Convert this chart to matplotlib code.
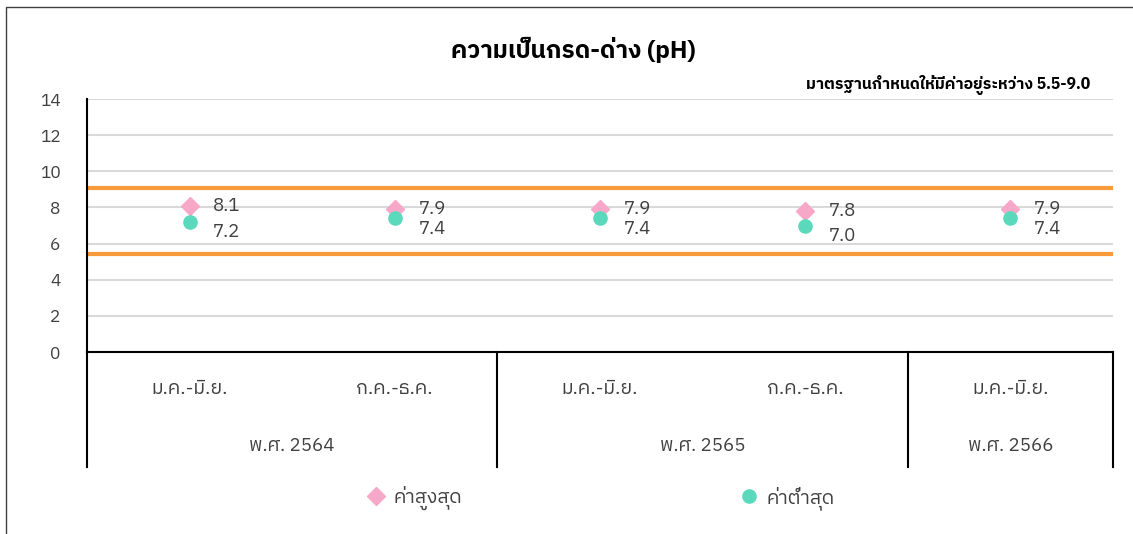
import matplotlib
matplotlib.use("Agg")
import matplotlib.pyplot as plt
import matplotlib.transforms as mtransforms
from matplotlib.patches import Rectangle
from matplotlib.lines import Line2D

# ข้อมูล
periods = ["ม.ค.-มิ.ย.", "ก.ค.-ธ.ค.", "ม.ค.-มิ.ย.", "ก.ค.-ธ.ค.", "ม.ค.-มิ.ย."]
years = ["พ.ศ. 2564", "พ.ศ. 2565", "พ.ศ. 2566"]
year_spans = [(0, 1), (2, 3), (4, 4)]
ph_max = [8.1, 7.9, 7.9, 7.8, 7.9]
ph_min = [7.2, 7.4, 7.4, 7.0, 7.4]
std_upper = 9.05
std_lower = 5.4
yticks = [0, 2, 4, 6, 8, 10, 12, 14]

plt.rcParams['font.family'] = ['IBM Plex Sans Thai', 'Noto Sans', 'DejaVu Sans']
text_color = '#404040'
pink = '#F7A8C9'
teal = '#5AD9BD'
orange = '#F79A3A'

fig = plt.figure(figsize=(11.33, 5.34), dpi=100)
ax = fig.add_axes([0.0768, 0.3408, 0.9055, 0.4738])

x = list(range(len(periods)))

# เส้นมาตรฐาน
ax.axhline(std_upper, color=orange, lw=3, zorder=2)
ax.axhline(std_lower, color=orange, lw=3, zorder=2)

# เส้น high-low
ax.vlines(x, ph_min, ph_max, color='black', lw=1, zorder=3)
ax.plot(x, ph_max, linestyle='none', marker='D', markersize=9, color=pink,
        label='ค่าสูงสุด', zorder=4)
ax.plot(x, ph_min, linestyle='none', marker='o', markersize=9.5, color=teal,
        label='ค่าต่ำสุด', zorder=4)

for xi, hi, lo in zip(x, ph_max, ph_min):
    ax.annotate(f"{hi:.1f}", (xi, hi), xytext=(17, 0), textcoords='offset points',
                ha='left', va='center', fontsize=13.5, color=text_color)
    ax.annotate(f"{lo:.1f}", (xi, lo), xytext=(17, -7.5), textcoords='offset points',
                ha='left', va='center', fontsize=13.5, color=text_color)

ax.set_xlim(-0.5, len(periods) - 0.5)
ax.set_ylim(0, 14)
ax.set_yticks(yticks)
ax.set_yticklabels([str(v) for v in yticks], fontsize=12.5, color=text_color)
ax.tick_params(axis='y', length=0, pad=19)
ax.set_xticks([])
ax.grid(axis='y', color='#D9D9D9', lw=1.5)
ax.set_axisbelow(True)
for side in ['top', 'right']:
    ax.spines[side].set_visible(False)
ax.spines['left'].set_color('black')
ax.spines['bottom'].set_color('black')
ax.spines['bottom'].set_linewidth(1.5)
ax.spines['left'].set_linewidth(1.5)

# ตารางแกน x แบบหลายระดับ
trans = mtransforms.blended_transform_factory(ax.transData, ax.transAxes)
table_bottom = -0.4545
seps = [-0.5] + [s[1] + 0.5 for s in year_spans]
for sx in seps:
    ax.plot([sx, sx], [0, table_bottom], transform=trans, color='black',
            lw=1.5, clip_on=False)
for xi, p in zip(x, periods):
    ax.text(xi, -0.146, p, transform=trans, ha='center', va='center',
            fontsize=14, color=text_color)
for (a, b), yr in zip(year_spans, years):
    ax.text((a + b) / 2, -0.3715, yr, transform=trans, ha='center',
            va='center', fontsize=13.5, color=text_color)

fig.text(0.5057, 0.906, "ความเป็นกรด-ด่าง (pH)", ha='center', va='center',
         fontsize=17.5, fontweight='bold', color='black')
fig.text(0.962, 0.841, "มาตรฐานกำหนดให้มีค่าอยู่ระหว่าง 5.5-9.0", ha='right',
         va='center', fontsize=11.3, fontweight='bold', color='black')

handles = [Line2D([], [], linestyle='none', marker='D', markersize=9, color=pink),
           Line2D([], [], linestyle='none', marker='o', markersize=9.5, color=teal)]
fig.legend(handles, ['ค่าสูงสุด', 'ค่าต่ำสุด'], loc='center',
           bbox_to_anchor=(0.53, 0.0674), ncol=2, frameon=False, fontsize=14,
           handlelength=1, handletextpad=0.4, columnspacing=14.3,
           labelcolor=text_color)

# กรอบแผนภูมิ
fig.patches.append(Rectangle((6 / 1133, -0.1), 1.2, 1 - 7 / 534 + 0.1,
                             transform=fig.transFigure, fill=False,
                             edgecolor='#404040', lw=1))

fig.savefig("out.png", dpi=100)
plt.close()
